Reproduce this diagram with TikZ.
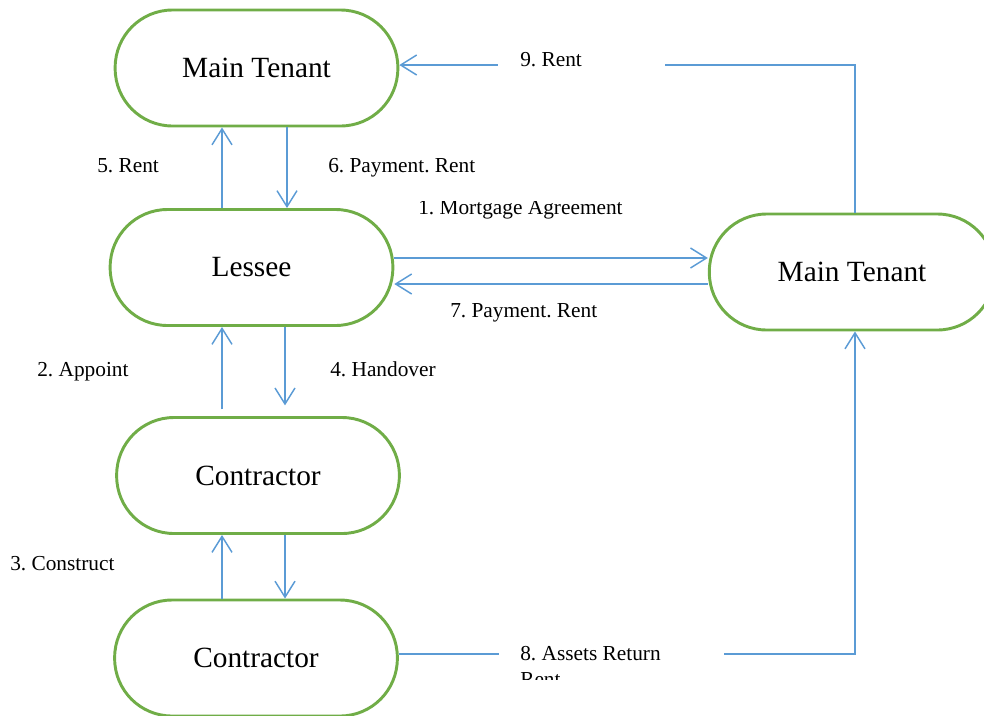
\documentclass[tikz,border=0pt]{standalone}
\usepackage{fontspec}
\setmainfont{Liberation Serif}
\usetikzlibrary{arrows.meta}
\definecolor{nodegreen}{HTML}{70AD47}
\definecolor{linkblue}{HTML}{5B9BD5}
\frenchspacing
\begin{document}
\begin{tikzpicture}[x=0.75pt,y=-0.75pt,
  pill/.style={draw=nodegreen, line width=2.2pt, fill=white, rounded corners=43pt,
    minimum width=212pt, minimum height=87pt, inner sep=0pt,
    font=\fontsize{22}{26}\selectfont},
  link/.style={draw=linkblue, line width=1.1pt, -{Straight Barb[length=12pt,width=15pt]}},
  lbl/.style={anchor=base west, inner sep=0pt, font=\fontsize{16}{19}\selectfont\frenchspacing},
]
\useasboundingbox (0,0) rectangle (984,715);
\clip (0,0) rectangle (984,715);

% nodes
\node[pill] (mt1) at (256.5,68) {Main Tenant};
\node[pill] (lessee) at (251.5,267.5) {Lessee};
\node[pill, minimum width=214pt] (mt2) at (852,272) {Main Tenant};
\node[pill] (con1) at (258,475.5) {Contractor};
\node[pill] (con2) at (256,658) {Contractor};

% helper coordinates
\coordinate (xa) at (222,0);
\coordinate (xb) at (287,0);
\coordinate (xc) at (285,0);
\coordinate (xv) at (855,0);
\coordinate (y65) at (0,65);
\coordinate (y258) at (0,258);
\coordinate (y284) at (0,284);
\coordinate (y654) at (0,654);

% connectors
\draw[link] (lessee.north -| xa) -- (mt1.south -| xa);
\draw[link] (mt1.south -| xb) -- (lessee.north -| xb);
\draw[link, shorten <=5pt] (con1.north -| xa) -- (lessee.south -| xa);
\draw[link, shorten >=8pt] (lessee.south -| xc) -- (con1.north -| xc);
\draw[link] (con2.north -| xa) -- (con1.south -| xa);
\draw[link] (con1.south -| xc) -- (con2.north -| xc);
\draw[link] (lessee.east |- y258) -- (mt2.west |- y258);
\draw[link] (mt2.west |- y284) -- (lessee.east |- y284);
\draw[link] (mt2.north -| xv) -- (xv |- y65) -- (mt1.east |- y65);
\draw[link] (con2.east |- y654) -- (xv |- y654) -- (mt2.south -| xv);

% labels
\node[lbl, fill=white, inner xsep=16.5pt, inner ysep=3pt] (l9) at (498,66) {\makebox[92pt][l]{9. Rent}};
\node[lbl] (l5) at (97,172) {5. Rent};
\node[lbl] (l6) at (328,172) {6. Payment. Rent};
\begin{scope}
  \clip (400,201) rectangle (700,230);
  \node[lbl] (l1) at (418,214) {1. Mortgage Agreement};
\end{scope}
\node[lbl] (l7) at (450,317) {7. Payment. Rent};
\node[lbl] (l2) at (37,376) {2. Appoint};
\node[lbl] (l4) at (330,376) {4. Handover};
\node[lbl] (l3) at (10,570) {3. Construct};
\begin{scope}
  \clip (480,630) rectangle (740,679);
  \node[lbl, fill=white, inner xsep=15.75pt, inner ysep=4pt, align=left] (l8) at (499,686.3) {\makebox[137pt][l]{8. Assets Return}\\Rent};
\end{scope}
\end{tikzpicture}
\end{document}
